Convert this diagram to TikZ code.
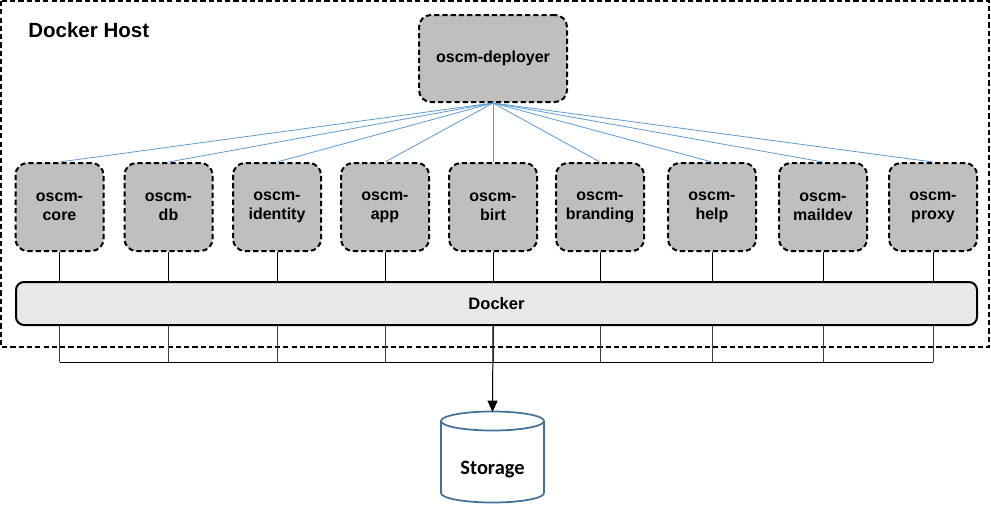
\documentclass[tikz,border=0pt]{standalone}
\usepackage{fontspec}
\setmainfont{Liberation Sans}
\newfontfamily\calibrifont{Carlito}
\usetikzlibrary{arrows.meta,calc}
\definecolor{boxgrey}{HTML}{BFBFBF}
\definecolor{bargrey}{HTML}{E8E8E8}
\definecolor{linkblue}{HTML}{5B9BD5}
\definecolor{cylblue}{HTML}{41719C}
\tikzset{
  svc/.style={draw=black, fill=boxgrey, line width=1.5pt, dash pattern=on 3.9pt off 2.3pt,
    rounded corners=9pt, minimum width=66pt, minimum height=66pt, align=center,
    font=\fontsize{12}{14.3}\selectfont\bfseries, inner sep=0pt},
  link/.style={draw=linkblue, line width=0.6pt},
  tap/.style={draw=black, line width=0.75pt},
  lowtap/.style={draw=black!75, line width=0.75pt},
}
\begin{document}
\begin{tikzpicture}[x=0.75pt, y=-0.75pt]
\useasboundingbox (0,0) rectangle (991,507);
% host frame
\draw[line width=1.5pt, dash pattern=on 3.9pt off 2.3pt] (1,1) rectangle (989,347);
\node[anchor=base west, font=\fontsize{15.4}{18}\selectfont\bfseries, inner sep=0pt] (hostlbl) at (28,37) {Docker Host};
% deployer
\node[svc, minimum width=111pt, minimum height=65.25pt] (dep) at (493,58.5) {oscm-deployer};
% services
\node[svc] (core) at (59.5,207) {oscm-\\core};
\node[svc] (db) at (168.5,207) {oscm-\\db};
\node[svc] (identity) at (277,207) {oscm-\\identity};
\node[svc] (app) at (385,207) {oscm-\\app};
\node[svc] (birt) at (493,207) {oscm-\\birt};
\node[svc] (branding) at (600,207) {oscm-\\branding};
\node[svc] (help) at (712,207) {oscm-\\help};
\node[svc] (maildev) at (823,207) {oscm-\\maildev};
\node[svc] (proxy) at (933,207) {oscm-\\proxy};
% docker bar
\node[draw=black, fill=bargrey, line width=1.5pt, rounded corners=6pt, minimum width=720.75pt,
  minimum height=32.25pt, inner sep=0pt, font=\fontsize{12.4}{14}\selectfont\bfseries] (docker) at (496.5,303.5) {Docker};
% storage
\node[inner sep=0pt, font=\calibrifont\fontsize{15.3}{18}\selectfont\bfseries] (storage) at (492.5,469.5) {Storage};
\coordinate (stortop) at (492.5,412);
\draw[draw=cylblue, line width=1.3pt]
  (441,421) arc[start angle=180, end angle=360, x radius=38.625pt, y radius=7.125pt]
  arc[start angle=0, end angle=180, x radius=38.625pt, y radius=7.125pt]
  -- (441,493) arc[start angle=180, end angle=360, x radius=38.625pt, y radius=7.125pt]
  -- (544,421);
% deployer links
\foreach \n in {core,db,identity,app,birt,branding,help,maildev,proxy}{
  \draw[link] (dep.south) -- (\n.north);
  \draw[tap] (\n.south) -- (\n.south |- docker.north);
  \draw[lowtap] (\n.south |- docker.south) -- (\n.south |- 0,362);
}
\draw[tap] (core.south |- 0,362) -- (proxy.south |- 0,362);
\draw[tap, -{Triangle[length=8.5pt,width=7.5pt]}] (birt.south |- docker.south) -- (stortop);
\end{tikzpicture}
\end{document}
